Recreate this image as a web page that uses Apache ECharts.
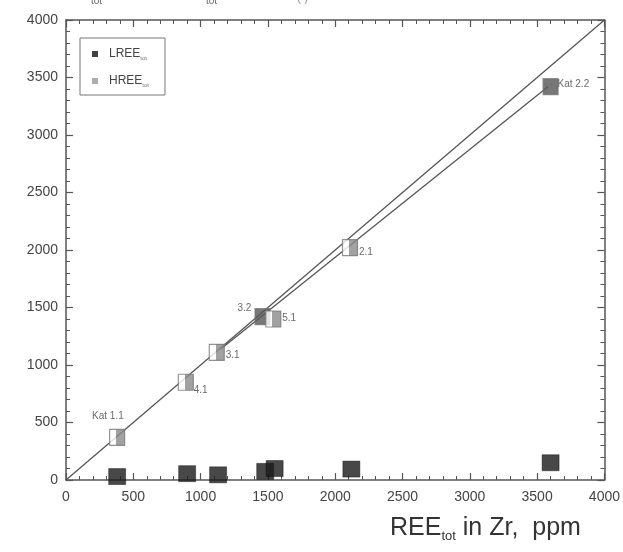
<!DOCTYPE html>
<html>
<head>
<meta charset="utf-8">
<script src="https://cdn.jsdelivr.net/npm/echarts@6/dist/echarts.min.js"></script>
<style>html,body{margin:0;padding:0;background:#fff}#c{width:623px;height:552px}</style>
</head>
<body>
<div id="c"></div>
<script>
// HREE_tot points: [REE_tot in Zr, value]
const hreeLabels = ['Kat 1.1', '4.1', '3.1', '3.2', '5.1', '2.1', 'Kat 2.2'];
const hreeX = [380, 890, 1120, 1460, 1540, 2110, 3600];
const hreeY = [370, 850, 1110, 1420, 1400, 2020, 3420];
// LREE_tot points
const lreeX = [380, 900, 1130, 1480, 1550, 2120, 3600];
const lreeY = [30, 55, 45, 75, 100, 95, 150];
// reference lines
const oneToOne = [[0, 0], [4000, 4000]];
const trendLine = [[1150, 1140], [3580, 3420]];
const xTicks = [0, 500, 1000, 1500, 2000, 2500, 3000, 3500, 4000];
const yTicks = [0, 500, 1000, 1500, 2000, 2500, 3000, 3500, 4000];

const labelPos = {
  'Kat 1.1': {position: [-17, -18]},
  '4.1': {position: [16, 12]},
  '3.1': {position: [17, 7]},
  '3.2': {position: [-17, -5]},
  '5.1': {position: [17, 3]},
  '2.1': {position: [17, 8]},
  'Kat 2.2': {position: [15, 1]}
};

const chart = echarts.init(document.getElementById('c'), null, {renderer: 'canvas'});
const axisCol = '#555';
const lblStyle = {color: '#444', fontSize: 14, fontFamily: 'Liberation Sans'};
const gradFill = new echarts.graphic.LinearGradient(0, 0, 1, 0, [
  {offset: 0, color: '#ffffff'}, {offset: 0.45, color: '#ffffff'},
  {offset: 0.45, color: '#8a8a8a'}, {offset: 1, color: '#8a8a8a'}
]);

function baseAxis(extra) {
  return Object.assign({
    type: 'value', min: 0, max: 4000, interval: 500,
    axisLine: {show: true, onZero: false, lineStyle: {color: axisCol, width: 1.5}},
    axisTick: {show: true, inside: true, length: 7, lineStyle: {color: axisCol, width: 1.2}},
    minorTick: {show: true, splitNumber: 5, length: 4, lineStyle: {color: axisCol, width: 1}},
    splitLine: {show: false},
    axisLabel: Object.assign({show: true, margin: 8}, lblStyle)
  }, extra);
}

chart.setOption({
  animation: false,
  backgroundColor: '#fff',
  grid: {left: 66, right: 17, top: 20, bottom: 72},
  xAxis: [
    baseAxis({position: 'bottom', axisLabel: Object.assign({margin: 10, formatter: v => xTicks.includes(v) ? String(v) : ''}, lblStyle)}),
    baseAxis({position: 'top', axisLabel: {show: false}})
  ],
  yAxis: [
    baseAxis({position: 'left', axisLabel: Object.assign({margin: 8, formatter: v => yTicks.includes(v) ? String(v) : ''}, lblStyle)}),
    baseAxis({position: 'right', axisLabel: {show: false}})
  ],
  legend: {
    left: 80, top: 38, orient: 'vertical',
    borderColor: '#777', borderWidth: 1, padding: [10, 16, 7, 12],
    itemWidth: 6, itemHeight: 6, itemGap: 14,
    data: [
      {name: 'LREE', icon: 'rect', itemStyle: {color: '#111', borderWidth: 0}},
      {name: 'HREE', icon: 'rect', itemStyle: {color: '#999', borderWidth: 0}}
    ],
    formatter: n => '{a|' + n + '}{b|tot}',
    textStyle: {
      rich: {
        a: {fontSize: 12, color: '#444', fontFamily: 'Liberation Sans', padding: [0, 0, 0, 6]},
        b: {fontSize: 6, color: '#777', fontFamily: 'Liberation Sans', verticalAlign: 'bottom', padding: [8, 0, 0, 0]}
      }
    }
  },
  graphic: [
    {type: 'text', left: 390, top: 516, style: {
      text: '{a|REE}{b|tot}{a| in Zr,  ppm}',
      rich: {
        a: {fontSize: 25, fill: '#333', fontFamily: 'Liberation Sans'},
        b: {fontSize: 13, fill: '#333', fontFamily: 'Liberation Sans', padding: [16, 0, 0, 0]}
      }
    }},
    {type: 'text', left: 91, top: -4, style: {text: 'tot', fontSize: 10, fill: '#666', fontFamily: 'Liberation Sans'}},
    {type: 'text', left: 206, top: -4, style: {text: 'tot', fontSize: 10, fill: '#666', fontFamily: 'Liberation Sans'}},
    {type: 'text', left: 297, top: -8, style: {text: '( )', fontSize: 12, fill: '#999', fontFamily: 'Liberation Sans'}}
  ],
  series: [
    {
      name: '1:1', type: 'line', xAxisIndex: 0, yAxisIndex: 0, data: oneToOne,
      showSymbol: false, symbol: 'none', lineStyle: {color: '#555', width: 1.3}, z: 1, silent: true
    },
    {
      name: 'trend', type: 'line', xAxisIndex: 0, yAxisIndex: 0, data: trendLine,
      showSymbol: false, symbol: 'none', lineStyle: {color: '#555', width: 1.3}, z: 1, silent: true
    },
    {
      name: 'LREE', type: 'scatter', xAxisIndex: 0, yAxisIndex: 0,
      data: lreeX.map((x, i) => [x, lreeY[i]]),
      symbol: 'rect', symbolSize: [17, 16],
      itemStyle: {color: '#1a1a1a', borderColor: '#000', borderWidth: 0.5}, z: 3
    },
    {
      name: 'HREE', type: 'scatter', xAxisIndex: 0, yAxisIndex: 0,
      data: hreeX.map((x, i) => ({
        value: [x, hreeY[i]], name: hreeLabels[i],
        label: Object.assign({show: true}, labelPos[hreeLabels[i]]),
        itemStyle: (hreeLabels[i] === 'Kat 2.2' || hreeLabels[i] === '3.2') ? {color: '#555'} : undefined
      })),
      symbol: 'rect', symbolSize: [15, 16],
      itemStyle: {color: gradFill, borderColor: '#777', borderWidth: 1.2},
      label: {show: true, formatter: p => p.name, fontSize: 10, color: '#444', fontFamily: 'Liberation Sans'},
      z: 4
    }
  ]
});
</script>
</body>
</html>
